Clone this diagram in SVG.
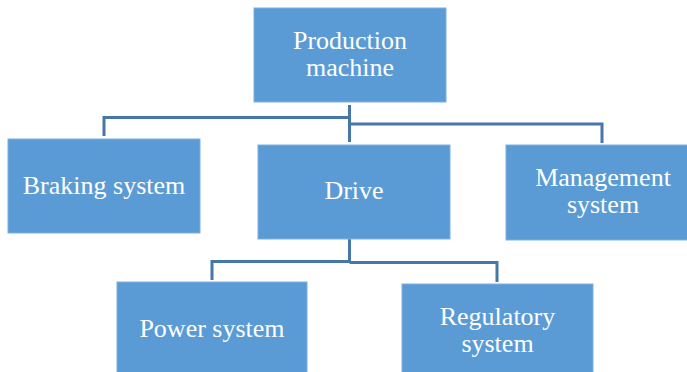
<svg xmlns="http://www.w3.org/2000/svg" width="687" height="372" viewBox="0 0 687 372">
<style>
.box{fill:#5B9BD5;stroke:#7DB0DF;stroke-width:1}
.t{font-size:26px;fill:#ffffff;text-anchor:middle}
.c{fill:none;stroke:#4677A8;stroke-width:3}
</style>
<rect width="687" height="372" fill="#ffffff"/>
<g id="connectors">
<path class="c" d="M349.5,105 V142"/>
<path class="c" d="M349.5,117.5 H104 V136"/>
<path class="c" d="M349.5,124 H602 V143"/>
<path class="c" d="M349.5,239 V263"/>
<path class="c" d="M349.5,261.5 H212 V280"/>
<path class="c" d="M349.5,262.5 H497 V282"/>
</g>
<g font-family="Liberation Serif, serif">
<g id="production-machine">
<rect class="box" x="254" y="8" width="192" height="94"/>
<text class="t" x="350" y="49">Production</text>
<text class="t" x="350" y="76">machine</text>
</g>
<g id="braking-system">
<rect class="box" x="8" y="139" width="192" height="94"/>
<text class="t" x="104" y="194">Braking system</text>
</g>
<g id="drive">
<rect class="box" x="258" y="145" width="192" height="94"/>
<text class="t" x="354" y="199">Drive</text>
</g>
<g id="management-system">
<rect class="box" x="506" y="145" width="194" height="95"/>
<text class="t" x="603" y="186">Management</text>
<text class="t" x="603" y="213">system</text>
</g>
<g id="power-system">
<rect class="box" x="117" y="282" width="190" height="94"/>
<text class="t" x="212" y="337">Power system</text>
</g>
<g id="regulatory-system">
<rect class="box" x="402" y="284" width="191" height="94"/>
<text class="t" x="497.5" y="325">Regulatory</text>
<text class="t" x="497.5" y="352">system</text>
</g>
</g>
</svg>
